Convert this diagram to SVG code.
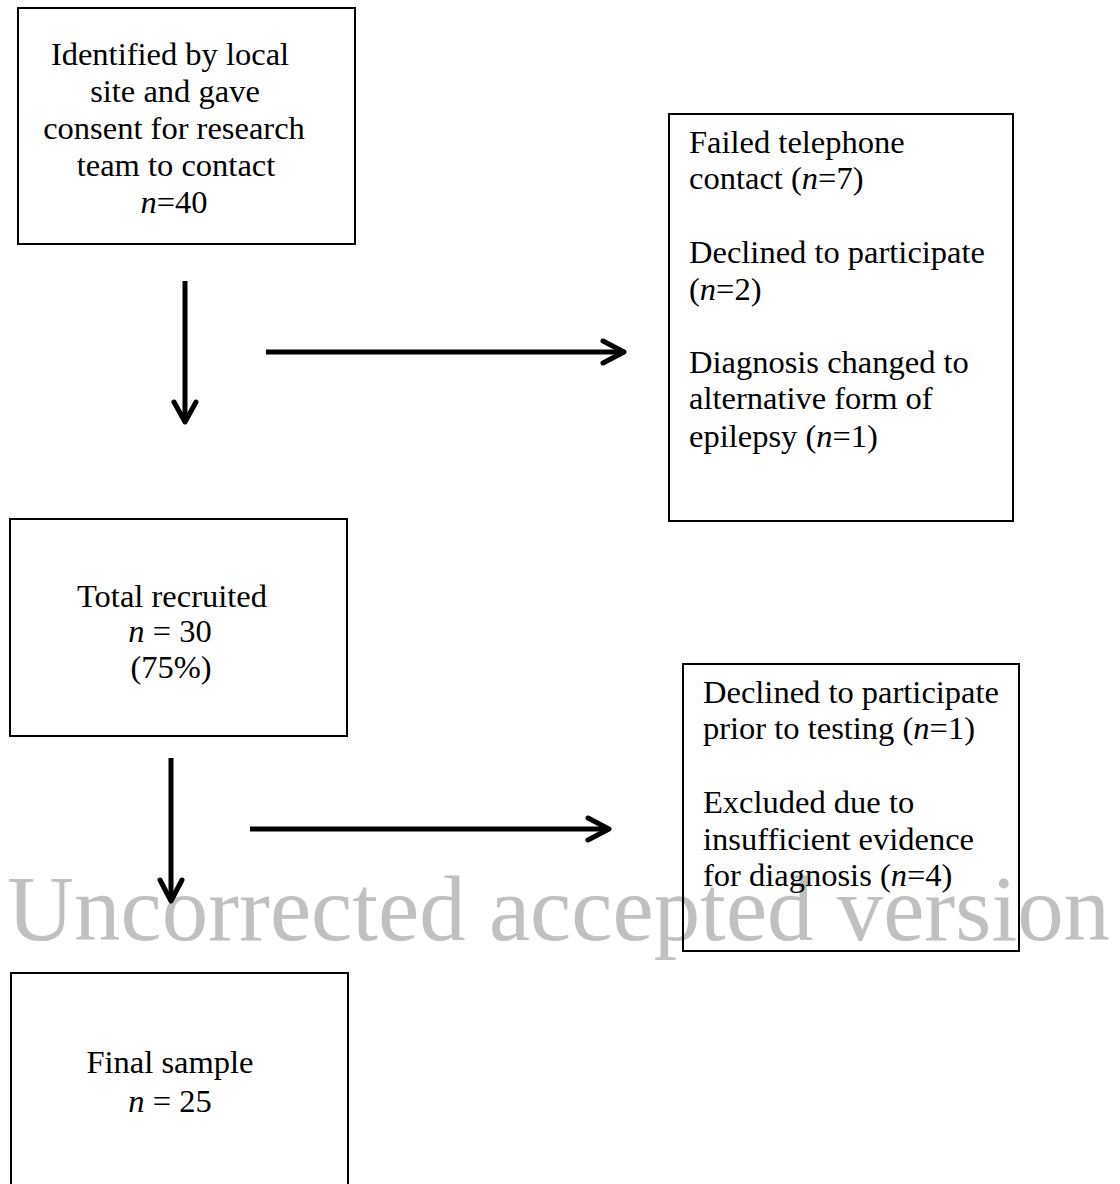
<svg xmlns="http://www.w3.org/2000/svg" width="1120" height="1184" viewBox="0 0 1120 1184">
<style>
.box{fill:none;stroke:#000;stroke-width:2}
.t{font-family:"Liberation Serif","Times New Roman",serif;font-size:32.5px;fill:#000}
.c{text-anchor:middle}
.i{font-style:italic}
.wm{font-family:"Liberation Serif","Times New Roman",serif;font-size:93px;fill:#c0c0c0}
.ln{stroke:#000;stroke-width:5;fill:none}
.hd{stroke:#000;stroke-width:5;fill:none;stroke-linecap:round;stroke-linejoin:round}
</style>
<rect width="1120" height="1184" fill="#fff"/>
<text class="wm" x="7" y="940" textLength="1103" lengthAdjust="spacingAndGlyphs">Uncorrected accepted version</text>
<g id="connectors">
<line class="ln" x1="185" y1="281" x2="185" y2="421"/>
<polyline class="hd" points="174,402 185,422 196,402"/>
<line class="ln" x1="266" y1="352" x2="623" y2="352"/>
<polyline class="hd" points="603,341 624,352 603,363"/>
<line class="ln" x1="171" y1="758" x2="171" y2="900"/>
<polyline class="hd" points="160,880 171,901 182,880"/>
<line class="ln" x1="250" y1="829" x2="608" y2="829"/>
<polyline class="hd" points="588,818 609,829 588,840"/>
</g>
<g id="n1">
<rect class="box" x="18" y="8" width="337" height="236"/>
<text class="t c" x="170" y="65">Identified by local</text>
<text class="t c" x="175" y="102">site and gave</text>
<text class="t c" x="174" y="139">consent for research</text>
<text class="t c" x="176" y="176">team to contact</text>
<text class="t c" x="174" y="213"><tspan class="i">n</tspan>=40</text>
</g>
<g id="n2">
<rect class="box" x="669" y="114" width="344" height="407"/>
<text class="t" x="689" y="153">Failed telephone</text>
<text class="t" x="689" y="189">contact (<tspan class="i">n</tspan>=7)</text>
<text class="t" x="689" y="263">Declined to participate</text>
<text class="t" x="689" y="300">(<tspan class="i">n</tspan>=2)</text>
<text class="t" x="689" y="373">Diagnosis changed to</text>
<text class="t" x="689" y="409">alternative form of</text>
<text class="t" x="689" y="447">epilepsy (<tspan class="i">n</tspan>=1)</text>
</g>
<g id="n3">
<rect class="box" x="10" y="519" width="337" height="217"/>
<text class="t c" x="172" y="607">Total recruited</text>
<text class="t c" x="170" y="642"><tspan class="i">n</tspan> = 30</text>
<text class="t c" x="171" y="678">(75%)</text>
</g>
<g id="n4">
<rect class="box" x="683" y="664" width="336" height="287"/>
<text class="t" x="703" y="703">Declined to participate</text>
<text class="t" x="703" y="739">prior to testing (<tspan class="i">n</tspan>=1)</text>
<text class="t" x="703" y="813">Excluded due to</text>
<text class="t" x="703" y="850">insufficient evidence</text>
<text class="t" x="703" y="886">for diagnosis (<tspan class="i">n</tspan>=4)</text>
</g>
<g id="n5">
<rect class="box" x="11" y="973" width="337" height="230"/>
<text class="t c" x="170" y="1073">Final sample</text>
<text class="t c" x="170" y="1112"><tspan class="i">n</tspan> = 25</text>
</g>
</svg>
